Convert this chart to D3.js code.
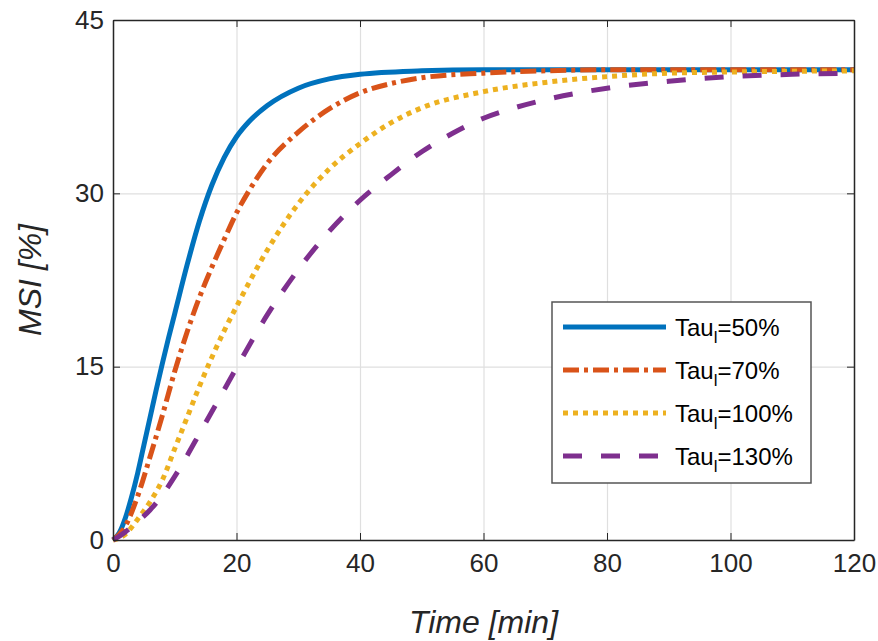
<!DOCTYPE html>
<html>
<head>
<meta charset="utf-8">
<script src="https://cdn.jsdelivr.net/npm/d3@7"></script>
<style>
  body { margin: 0; background: #fff; }
  .axis path, .axis line { stroke: #262626; }
  .axis text { font-family: "Liberation Sans", Arial, sans-serif; font-size: 26px; fill: #262626; }
  .grid line { stroke: #dfdfdf; stroke-width: 1.2; }
  .grid path { display: none; }
  .curve { fill: none; stroke-width: 5; }
  .lbl { font-family: "Liberation Sans", Arial, sans-serif; font-size: 32px; font-style: italic; fill: #262626; }
  .leg text { font-family: "Liberation Sans", Arial, sans-serif; font-size: 24px; fill: #000; }
</style>
</head>
<body>
<svg id="msi_chart" width="878" height="641"></svg>
<script>

// time [min] / MSI [%]
var t_50  = [0, 1, 2, 3, 4, 5, 6, 7, 8, 9, 10, 12, 14, 16, 18, 20, 22, 25, 30, 35, 40, 50, 60, 120];
var v_50  = [0, 0.6, 1.9, 3.7, 5.8, 8.2, 10.6, 13, 15.3, 17.5, 19.6, 23.8, 27.6, 30.7, 33.1, 34.9, 36.2, 37.6, 39.1, 39.9, 40.3, 40.6, 40.7, 40.7];

var t_70  = [0, 2, 4, 6, 8, 10, 12, 14, 16, 18, 20, 22, 25, 30, 35, 40, 45, 50, 60, 70, 80, 120];
var v_70  = [0, 1.2, 3.8, 7.2, 10.8, 14.6, 18, 21, 23.6, 26.0, 28.3, 30.2, 32.6, 35.3, 37.3, 38.7, 39.5, 40.0, 40.4, 40.6, 40.7, 40.7];

var t_100 = [0, 2, 4, 6, 8, 10, 12, 14, 16, 18, 20, 25, 30, 35, 40, 45, 50, 60, 70, 80, 90, 100, 120];
var v_100 = [0, 0.5, 1.8, 3.3, 5.2, 7.9, 10.6, 13.3, 15.8, 18.1, 20.2, 25.1, 29.1, 32.1, 34.3, 36.1, 37.4, 38.8, 39.6, 40.1, 40.4, 40.5, 40.6];

var t_130 = [0, 2, 4, 6, 8, 10, 12, 14, 16, 18, 20, 25, 30, 35, 40, 45, 50, 55, 60, 65, 70, 80, 90, 100, 110, 120];
var v_130 = [0, 0.7, 1.6, 2.6, 3.9, 5.5, 7.3, 9.2, 11.1, 13, 14.9, 19.5, 23.4, 26.7, 29.4, 31.6, 33.6, 35.2, 36.5, 37.4, 38.1, 39.1, 39.7, 40.1, 40.3, 40.4];

var legend_names = ["50%", "70%", "100%", "130%"];
var x_ticks = [0, 20, 40, 60, 80, 100, 120];
var y_ticks = [0, 15, 30, 45];

// plot box
var margin = {top: 20, right: 24, bottom: 101, left: 113};
var width = 878 - margin.left - margin.right;
var height = 641 - margin.top - margin.bottom;

var svg = d3.select("#msi_chart");
var g = svg.append("g")
    .attr("transform", "translate(" + margin.left + "," + margin.top + ")");

var x = d3.scaleLinear().domain([0, 120]).range([0, width]);
var y = d3.scaleLinear().domain([0, 45]).range([height, 0]);

// grid
g.append("g").attr("class", "grid")
    .attr("transform", "translate(0," + height + ")")
    .call(d3.axisBottom(x).tickValues(x_ticks).tickSize(-height).tickFormat(""));
g.append("g").attr("class", "grid")
    .call(d3.axisLeft(y).tickValues(y_ticks).tickSize(-width).tickFormat(""));

// series
var series = [
  {t: t_50,  v: v_50,  color: "#0072BD", dash: null},
  {t: t_70,  v: v_70,  color: "#D95319", dash: "16,5,4,5"},
  {t: t_100, v: v_100, color: "#EDB120", dash: "5,5"},
  {t: t_130, v: v_130, color: "#7E2F8E", dash: "19,19"}
];

var line = d3.line()
    .x(function(d) { return x(d[0]); })
    .y(function(d) { return y(d[1]); })
    .curve(d3.curveMonotoneX);

// first series at bottom
series.forEach(function(s) {
  var pts = s.t.map(function(tt, i) { return [tt, s.v[i]]; });
  g.append("path")
      .datum(pts)
      .attr("class", "curve")
      .attr("stroke", s.color)
      .attr("stroke-dasharray", s.dash)
      .attr("d", line);
});

// axes, ticks inward on all sides
var tick_in = 7;
g.append("g").attr("class", "axis")
    .attr("transform", "translate(0," + height + ")")
    .call(d3.axisBottom(x).tickValues(x_ticks).tickSizeInner(-tick_in).tickSizeOuter(0).tickPadding(14))
    .call(function(a) { a.select(".domain").attr("stroke-width", 1.5); });
g.append("g").attr("class", "axis")
    .call(d3.axisLeft(y).tickValues(y_ticks).tickSizeInner(-tick_in).tickSizeOuter(0).tickPadding(9))
    .call(function(a) { a.select(".domain").attr("stroke-width", 1.5); });
g.append("g").attr("class", "axis")
    .call(d3.axisTop(x).tickValues(x_ticks).tickSizeInner(-tick_in).tickSizeOuter(0).tickFormat(""))
    .call(function(a) { a.select(".domain").attr("stroke-width", 1.5); });
g.append("g").attr("class", "axis")
    .attr("transform", "translate(" + width + ",0)")
    .call(d3.axisRight(y).tickValues(y_ticks).tickSizeInner(-tick_in).tickSizeOuter(0).tickFormat(""))
    .call(function(a) { a.select(".domain").attr("stroke-width", 1.5); });

// axis labels
g.append("text").attr("class", "lbl")
    .attr("text-anchor", "middle")
    .attr("x", width / 2).attr("y", height + 93)
    .text("Time [min]");
g.append("text").attr("class", "lbl")
    .attr("text-anchor", "middle")
    .attr("transform", "translate(-72," + (height / 2) + ") rotate(-90)")
    .text("MSI [%]");

// legend
var leg = g.append("g").attr("class", "leg")
    .attr("transform", "translate(" + (552 - margin.left) + "," + (302 - margin.top) + ")");
leg.append("rect")
    .attr("width", 259).attr("height", 181)
    .attr("fill", "#fff").attr("stroke", "#555").attr("stroke-width", 1.5);

series.forEach(function(s, i) {
  var yy = 25 + i * 43;
  leg.append("line")
      .attr("x1", 11).attr("x2", 114)
      .attr("y1", yy).attr("y2", yy)
      .attr("stroke", s.color).attr("stroke-width", 5)
      .attr("stroke-dasharray", s.dash);
  var txt = leg.append("text").attr("x", 123).attr("y", yy + 9);
  txt.append("tspan").text("Tau");
  txt.append("tspan").attr("font-size", "17px").attr("dy", 7).text("l");
  txt.append("tspan").attr("dy", -7).text("=" + legend_names[i]);
});

</script>
</body>
</html>
